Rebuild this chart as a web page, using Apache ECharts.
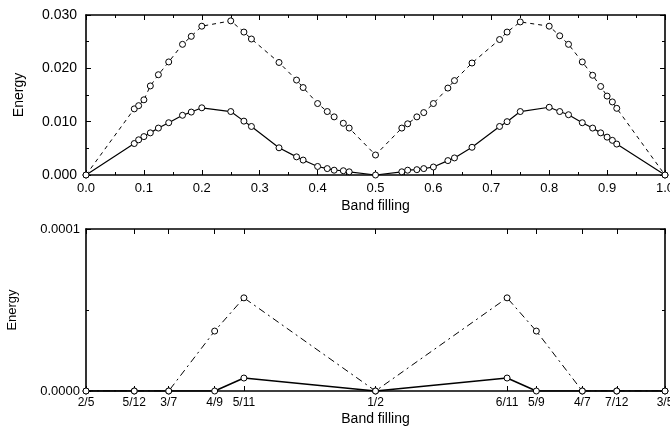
<!DOCTYPE html>
<html>
<head>
<meta charset="utf-8">
<script src="https://cdn.jsdelivr.net/npm/echarts@6/dist/echarts.min.js"></script>
<style>
  html, body { margin: 0; padding: 0; background: #fff; }
  #chart { width: 670px; height: 428px; }
</style>
</head>
<body>
<div id="chart"></div>
<script>
// top panel: band filling and the two energy curves
const filling = [0, 1/12, 1/11, 1/10, 1/9, 1/8, 1/7, 1/6, 2/11, 1/5, 1/4, 3/11, 2/7, 1/3, 4/11, 3/8, 2/5, 5/12, 3/7, 4/9, 5/11, 1/2,
  6/11, 5/9, 4/7, 7/12, 3/5, 5/8, 7/11, 2/3, 5/7, 8/11, 3/4, 4/5, 9/11, 5/6, 6/7, 7/8, 8/9, 9/10, 10/11, 11/12, 1];
const energyUpper = [0, 0.0124, 0.0130, 0.0141, 0.0167, 0.0188, 0.0212, 0.0245, 0.0260, 0.0279, 0.0289, 0.0268, 0.0255, 0.0211, 0.0178, 0.0164, 0.0134, 0.0119, 0.0109, 0.0097, 0.0088, 0.00375,
  0.0088, 0.0096, 0.0109, 0.0117, 0.0134, 0.0163, 0.0177, 0.0210, 0.0254, 0.0268, 0.0287, 0.0279, 0.0261, 0.0245, 0.0212, 0.0187, 0.0166, 0.0148, 0.0137, 0.0125, 0];
const energyLower = [0, 0.0059, 0.0066, 0.0072, 0.0079, 0.0088, 0.0098, 0.0112, 0.0118, 0.0126, 0.0119, 0.0101, 0.0091, 0.0051, 0.0034, 0.0028, 0.0016, 0.0012, 0.0009, 0.0008, 0.0006, 0,
  0.0006, 0.0009, 0.0010, 0.0012, 0.0015, 0.0027, 0.0032, 0.0052, 0.0091, 0.0100, 0.0119, 0.0127, 0.0119, 0.0113, 0.0098, 0.0088, 0.0079, 0.0071, 0.0065, 0.0058, 0];

// bottom panel: fillings between 2/5 and 3/5
const fractions = [2/5, 5/12, 3/7, 4/9, 5/11, 1/2, 6/11, 5/9, 4/7, 7/12, 3/5];
const fractionLabels = ['2/5', '5/12', '3/7', '4/9', '5/11', '1/2', '6/11', '5/9', '4/7', '7/12', '3/5'];
const gapUpper = [0, 0, 0, 0.000037, 0.0000575, 0, 0.0000575, 0.000037, 0, 0, 0];
const gapLower = [0, 0, 0, 0, 0.000008, 0, 0.000008, 0, 0, 0, 0];

const FONT = '"Liberation Sans", Arial, sans-serif';
const black = '#000';

const line = { onZero: false, lineStyle: { color: black, width: 1.6 } };
const tick = { show: true, inside: true, length: 5, lineStyle: { color: black, width: 1 } };
const minor = { show: true, splitNumber: 2, length: 3, lineStyle: { color: black, width: 1 } };

function fracLabel(v) {
  const i = fractions.findIndex(f => Math.abs(f - v) < 1e-6);
  return i >= 0 ? fractionLabels[i] : '';
}

function pairs(xs, ys) {
  return xs.map((x, i) => [x, ys[i]]);
}

const marker = {
  symbol: 'circle',
  symbolSize: 6,
  itemStyle: { color: '#fff', borderColor: black, borderWidth: 1 },
};

const chart = echarts.init(document.getElementById('chart'), null, { renderer: 'canvas' });

chart.setOption({
  animation: false,
  backgroundColor: '#fff',
  textStyle: { fontFamily: FONT, color: black },
  grid: [
    { left: 86, right: 5, top: 15, height: 160, outerBoundsMode: 'none' },
    { left: 86, right: 5, top: 229, height: 162, outerBoundsMode: 'none' },
  ],
  xAxis: [
    {
      gridIndex: 0, type: 'value', min: 0, max: 1, interval: 0.1, position: 'bottom',
      axisLine: line, axisTick: tick, minorTick: minor, splitLine: { show: false },
      axisLabel: { color: black, fontSize: 13, margin: 7, formatter: v => v.toFixed(1) },
      name: 'Band filling', nameLocation: 'middle', nameGap: 24,
      nameTextStyle: { color: black, fontSize: 14 },
    },
    {
      gridIndex: 0, type: 'value', min: 0, max: 1, interval: 0.1, position: 'top',
      axisLine: line, axisTick: tick, minorTick: minor, splitLine: { show: false },
      axisLabel: { show: false },
    },
    {
      gridIndex: 1, type: 'value', min: 0.4, max: 0.6, position: 'bottom',
      axisLine: line, splitLine: { show: false },
      axisTick: Object.assign({}, tick, { customValues: fractions }),
      axisLabel: { color: black, fontSize: 12, margin: 6, customValues: fractions, formatter: fracLabel },
      name: 'Band filling', nameLocation: 'middle', nameGap: 21,
      nameTextStyle: { color: black, fontSize: 14 },
    },
    {
      gridIndex: 1, type: 'value', min: 0.4, max: 0.6, position: 'top',
      axisLine: line, splitLine: { show: false },
      axisTick: Object.assign({}, tick, { customValues: fractions }),
      axisLabel: { show: false },
    },
  ],
  yAxis: [
    {
      gridIndex: 0, type: 'value', min: 0, max: 0.03, interval: 0.01, position: 'left',
      axisLine: line, axisTick: tick, minorTick: minor, splitLine: { show: false },
      axisLabel: { color: black, fontSize: 14, margin: 9, formatter: v => v.toFixed(3) },
      name: 'Energy', nameLocation: 'middle', nameGap: 60, nameRotate: 90,
      nameTextStyle: { color: black, fontSize: 14 },
    },
    {
      gridIndex: 0, type: 'value', min: 0, max: 0.03, interval: 0.01, position: 'right',
      axisLine: line, axisTick: tick, minorTick: minor, splitLine: { show: false },
      axisLabel: { show: false },
    },
    {
      gridIndex: 1, type: 'value', min: 0, max: 0.0001, interval: 0.0001, position: 'left',
      axisLine: line, axisTick: tick, minorTick: minor, splitLine: { show: false },
      axisLabel: { color: black, fontSize: 13, margin: 6, formatter: v => v.toFixed(4) },
      name: 'Energy', nameLocation: 'middle', nameGap: 67, nameRotate: 90,
      nameTextStyle: { color: black, fontSize: 13 },
    },
    {
      gridIndex: 1, type: 'value', min: 0, max: 0.0001, interval: 0.0001, position: 'right',
      axisLine: line, axisTick: tick, minorTick: minor, splitLine: { show: false },
      axisLabel: { show: false },
    },
  ],
  series: [
    Object.assign({
      type: 'line', xAxisIndex: 0, yAxisIndex: 0,
      data: pairs(filling, energyUpper),
      lineStyle: { color: black, width: 1, type: [4, 4] },
    }, marker),
    Object.assign({
      type: 'line', xAxisIndex: 0, yAxisIndex: 0,
      data: pairs(filling, energyLower),
      lineStyle: { color: black, width: 1.2 },
    }, marker),
    Object.assign({
      type: 'line', xAxisIndex: 2, yAxisIndex: 2,
      data: pairs(fractions, gapUpper),
      lineStyle: { color: black, width: 1, type: [7, 4, 2, 4] },
    }, marker),
    Object.assign({
      type: 'line', xAxisIndex: 2, yAxisIndex: 2,
      data: pairs(fractions, gapLower),
      lineStyle: { color: black, width: 1.5 },
    }, marker),
  ],
});
</script>
</body>
</html>
